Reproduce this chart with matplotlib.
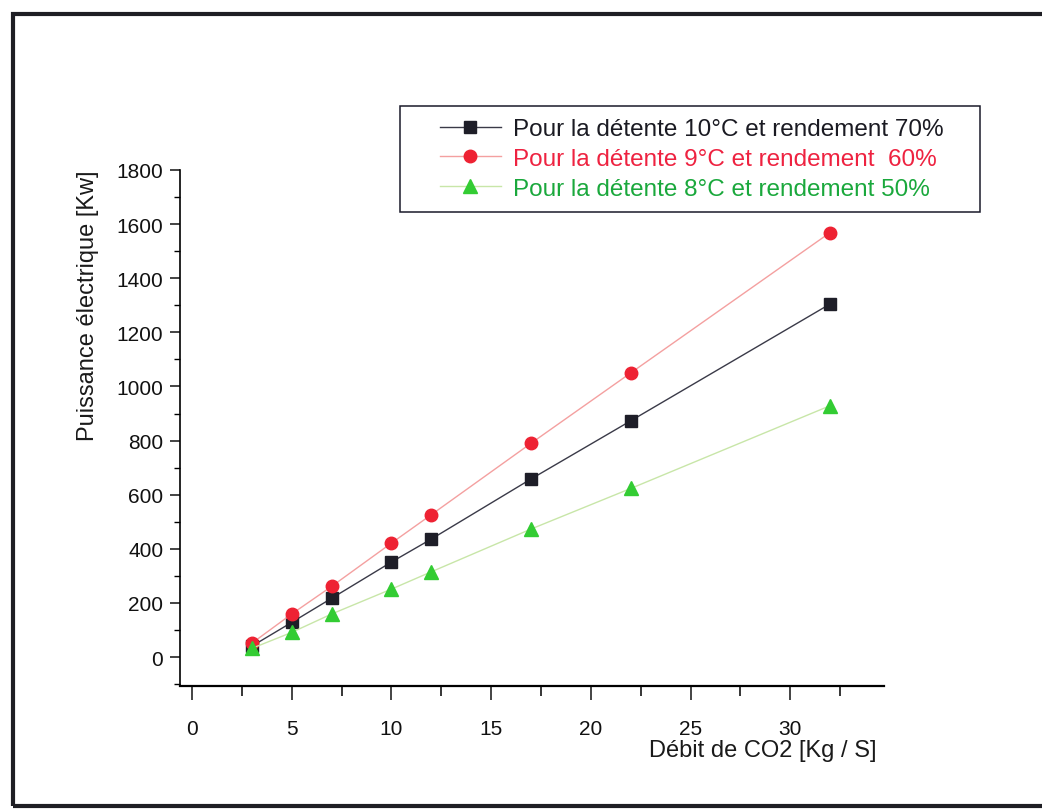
import matplotlib
matplotlib.use('Agg')
import matplotlib.pyplot as plt
from matplotlib.patches import Rectangle
from matplotlib.ticker import MultipleLocator

plt.rcParams['font.family'] = ['Liberation Sans', 'DejaVu Sans']

debit = [3, 5, 7, 10, 12, 17, 22, 32]
p_10c_70 = [40, 128, 217, 351, 436, 658, 873, 1305]
p_9c_60 = [51, 159, 261, 421, 526, 790, 1050, 1569]
p_8c_50 = [32, 91, 159, 251, 315, 473, 623, 929]

labels = ['Pour la détente 10°C et rendement 70%',
          'Pour la détente 9°C et rendement  60%',
          'Pour la détente 8°C et rendement 50%']
text_colors = ['#1a1a22', '#ee2240', '#1aa83c']

fig = plt.figure(figsize=(10.42, 8.12), dpi=100)
ax = fig.add_axes([180/1042, 1-687/812, 704/1042, 516/812])

ax.plot(debit, p_10c_70, '-s', color='#3a3a48', lw=1, markersize=8,
        mfc='#1e1e28', mec='#1e1e28', label=labels[0])
ax.plot(debit, p_9c_60, '-o', color='#f4a0a0', lw=1, markersize=9,
        mfc='#ee2233', mec='#ee2233', label=labels[1])
ax.plot(debit, p_8c_50, '-^', color='#c8e6a8', lw=1, markersize=9.5,
        mfc='#33cc33', mec='#33cc33', label=labels[2])

ax.set_xlim(-0.6, 34.7)
ax.set_ylim(-107, 1800)
ax.xaxis.set_major_locator(MultipleLocator(5))
ax.xaxis.set_minor_locator(MultipleLocator(2.5))
ax.yaxis.set_major_locator(MultipleLocator(200))
ax.yaxis.set_minor_locator(MultipleLocator(100))
ax.set_xticks(range(0, 31, 5))

for s in ['top', 'right']:
    ax.spines[s].set_visible(False)
ax.spines['left'].set_linewidth(1.2)
ax.spines['bottom'].set_linewidth(1.6)

ax.tick_params(axis='both', which='major', direction='out', labelsize=15,
               width=1.1, colors='#111111')
ax.tick_params(axis='y', which='major', length=7, pad=5)
ax.tick_params(axis='y', which='minor', length=4, width=1)
ax.tick_params(axis='x', which='major', length=10, pad=14)
ax.tick_params(axis='x', which='minor', length=7, width=1.1)

ax.set_ylabel('Puissance électrique [Kw]', fontsize=17, color='#1a1a1a',
              va='center')
ax.yaxis.set_label_coords(-0.131, 0.738)
ax.set_xlabel('Débit de CO2 [Kg / S]', fontsize=17, color='#1a1a1a',
              ha='right', va='center')
ax.xaxis.set_label_coords(0.99, -0.124)

# legend entries without frame, box drawn separately (wide left margin)
leg = ax.legend(loc='upper left', bbox_to_anchor=(440/1042, 1-119/812),
                bbox_transform=fig.transFigure, fontsize=17.5, frameon=False,
                borderaxespad=0, borderpad=0, handlelength=2.5,
                handletextpad=0.5, labelspacing=0.32,
                labelcolor=text_colors)

fig.patches.append(Rectangle((400/1042, 1-213/812), 580/1042, 106/812,
                             transform=fig.transFigure, fill=False,
                             edgecolor='#1a1a2a', linewidth=1.1))

fig.patches.append(Rectangle((13/1042, 1-807/812), 1.1, (807-15)/812,
                             transform=fig.transFigure, fill=False,
                             edgecolor='#1e1e24', linewidth=3, clip_on=False))

fig.savefig('out.png', dpi=100)
